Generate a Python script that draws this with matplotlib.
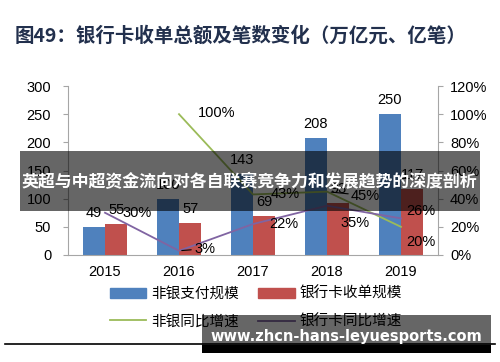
import numpy as np
import matplotlib
matplotlib.use('Agg')
import matplotlib.pyplot as plt
from matplotlib.patches import Rectangle, Patch
from matplotlib.lines import Line2D

plt.rcParams['font.family'] = ['Liberation Sans', 'Noto Sans CJK SC', 'DejaVu Sans']

# ---- data ----
years = ['2015', '2016', '2017', '2018', '2019']
nonbank_scale = [49, 100, 143, 208, 250]
bankcard_scale = [55, 57, 69, 93, 117]
nonbank_growth = [np.nan, 1.00, 0.43, 0.45, 0.20]
bankcard_growth = [0.30, 0.03, 0.22, 0.35, 0.26]
left_ticks = [0, 50, 100, 150, 200, 250, 300]
right_ticks = [0, 0.2, 0.4, 0.6, 0.8, 1.0, 1.2]
series_names = ['非银支付规模', '银行卡收单规模', '非银同比增速', '银行卡同比增速']
title = '图49：银行卡收单总额及笔数变化（万亿元、亿笔）'
banner_text = '英超与中超资金流向对各自联赛竞争力和发展趋势的深度剖析'
url_text = 'www.zhcn-hans-leyuesports.com'

# label offsets (pixels: dx, dy up) -- styling only
purple_off = [(17, 0), (15, 2), (16, 0), (13, -17), (5, 7)]
green_off = [None, (19, 1), (18, 0), (24, -4), (5, -15)]

BLUE = '#4f81bd'
RED = '#c0504d'
GREEN = '#9bbb59'
PURPLE = '#8064a2'
GRAY = '#a6a6a6'

W, H = 500, 362
fig = plt.figure(figsize=(W / 100, H / 100), dpi=100)
ax = fig.add_axes([68 / W, 1 - 255 / H, 370 / W, 169 / H])

x = np.arange(len(years))
bw = 0.3
b1 = ax.bar(x - bw / 2, nonbank_scale, bw, color=BLUE, zorder=2)
b2 = ax.bar(x + bw / 2, bankcard_scale, bw, color=RED, zorder=2)
ax.bar_label(b1, labels=[str(v) for v in nonbank_scale], padding=5, fontsize=10.5)
ax.bar_label(b2, labels=[str(v) for v in bankcard_scale], padding=5, fontsize=10.5)

ax.set_xlim(-0.5, len(years) - 0.5)
ax.set_ylim(0, 300)
ax.set_yticks(left_ticks)
ax.set_xticks(x)
ax.set_xticklabels(years)
ax.tick_params(axis='x', length=0, pad=7, labelsize=10.5)
ax.tick_params(axis='y', direction='out', length=3.6, pad=8.5, color=GRAY, labelsize=10.5)
for s in ['top', 'right']:
    ax.spines[s].set_visible(False)
for s in ['left', 'bottom']:
    ax.spines[s].set_color(GRAY)

ax2 = ax.twinx()
ax2.plot(x, nonbank_growth, color=GREEN, lw=1.3, zorder=3)
ax2.plot(x, bankcard_growth, color=PURPLE, lw=1.3, zorder=3)
ax2.set_ylim(0, 1.2)
ax2.set_yticks(right_ticks)
ax2.set_yticklabels([f'{int(round(t * 100))}%' for t in right_ticks])
ax2.tick_params(axis='y', direction='out', length=3.6, pad=5, color=GRAY, labelsize=10.5)
for s in ['top', 'left', 'bottom']:
    ax2.spines[s].set_visible(False)
ax2.spines['right'].set_color(GRAY)

px = 72 / 100  # points per pixel
for i, v in enumerate(bankcard_growth):
    dx, dy = purple_off[i]
    kw = {}
    if i == 1:
        kw['arrowprops'] = dict(arrowstyle='-', color='black', lw=0.8, shrinkA=0, shrinkB=2)
    ax2.annotate(f'{int(round(v * 100))}%', (x[i], v), xytext=(dx * px, dy * px),
                 textcoords='offset points', ha='left', va='center', fontsize=10.5, **kw)
for i, v in enumerate(nonbank_growth):
    if np.isnan(v):
        continue
    dx, dy = green_off[i]
    kw = {}
    if i == 3:
        kw['arrowprops'] = dict(arrowstyle='-', color='black', lw=0.8, shrinkA=0, shrinkB=3)
    ax2.annotate(f'{int(round(v * 100))}%', (x[i], v), xytext=(dx * px, dy * px),
                 textcoords='offset points', ha='left', va='center', fontsize=10.5, **kw)

# legend
handles = [Patch(color=BLUE), Line2D([], [], color=GREEN, lw=1.3),
           Patch(color=RED), Line2D([], [], color=PURPLE, lw=1.3)]
labels = [series_names[0], series_names[2], series_names[1], series_names[3]]
fig.legend(handles, labels, ncol=2, loc='upper left', bbox_to_anchor=(110 / W, 1 - 287 / H),
           frameon=False, borderpad=0, borderaxespad=0, handlelength=2.5, handleheight=0.6,
           columnspacing=1.3, labelspacing=0.9, handletextpad=0.35,
           prop={'family': ['Noto Sans CJK SC'], 'size': 10.5})

# title
fig.text(15 / W, 1 - 36 / H, title, fontsize=14, fontweight='bold', color='#22304d',
         va='center', ha='left', family=['Noto Sans CJK SC', 'DejaVu Sans'])

# bottom rule
fig.add_artist(Line2D([5 / W, 495 / W], [1 - 344 / H] * 2, color='black', lw=1.2, zorder=5))

# overlay banner
fig.add_artist(Rectangle((20 / W, 1 - 211 / H), 460 / W, 60 / H, transform=fig.transFigure,
                         facecolor='black', alpha=0.6, edgecolor='none', zorder=10))
fig.text(249 / W, 1 - 182 / H, banner_text, fontsize=12.2, fontweight='bold', color='white',
         ha='center', va='center', zorder=11, family=['Noto Sans CJK SC', 'DejaVu Sans'])

# url box
fig.add_artist(Rectangle((202 / W, 1 - 345 / H), 289 / W, 30 / H, transform=fig.transFigure,
                         facecolor='black', alpha=0.6, edgecolor='none', zorder=10))
fig.add_artist(Rectangle((202 / W, 1 - 353 / H), 289 / W, 8 / H, transform=fig.transFigure,
                         facecolor='black', edgecolor='none', zorder=10))
fig.text(346 / W, 1 - 336 / H, url_text, fontsize=10.5, fontweight='bold', color='white',
         ha='center', va='center', zorder=11, family=['DejaVu Sans'])

fig.savefig('out.png', dpi=100)
